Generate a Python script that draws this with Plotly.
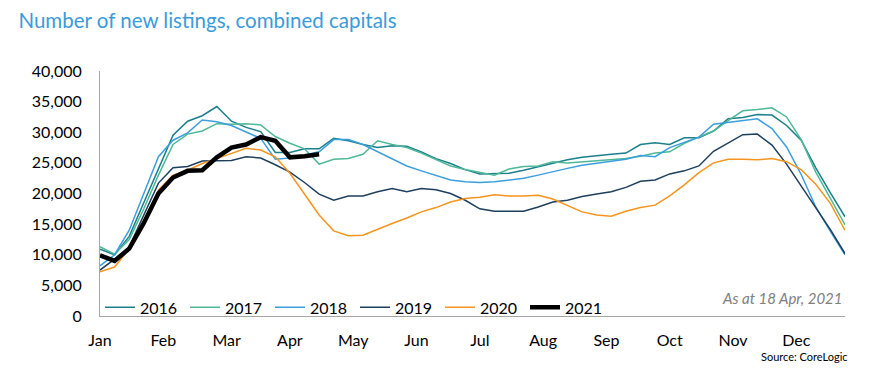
import plotly.graph_objects as go

weeks = list(range(52))
months = ["Jan", "Feb", "Mar", "Apr", "May", "Jun", "Jul", "Aug", "Sep", "Oct", "Nov", "Dec"]

y2016 = [10.9, 10.0, 13.0, 18.5, 24.0, 29.5, 31.8, 32.7, 34.2, 31.8, 30.8, 30.1, 26.7, 26.7, 27.3, 27.3,
         29.0, 28.6, 28.0, 27.5, 27.8, 27.7, 26.8, 25.7, 24.9, 23.9, 23.2, 23.2, 23.3, 23.8, 24.4, 24.9,
         25.5, 25.9, 26.2, 26.4, 26.6, 28.0, 28.3, 28.0, 29.1, 29.1, 30.2, 32.2, 32.4, 32.9, 32.8, 31.1,
         28.7, 24.2, 20.1, 16.2]
y2017 = [11.3, 10.1, 12.5, 17.5, 23.0, 28.0, 29.7, 30.2, 31.4, 31.3, 31.4, 31.2, 29.3, 28.2, 27.3, 24.8,
         25.6, 25.7, 26.4, 28.6, 28.0, 27.5, 26.6, 25.5, 24.5, 23.9, 23.4, 23.0, 24.0, 24.4, 24.5, 25.2,
         25.0, 25.2, 25.4, 25.5, 25.7, 26.1, 26.6, 26.8, 28.2, 29.2, 30.2, 31.9, 33.5, 33.7, 34.0, 32.5,
         28.8, 23.5, 19.2, 14.9]
y2018 = [8.2, 10.0, 14.0, 20.0, 26.0, 28.7, 29.9, 32.0, 31.7, 31.1, 30.0, 29.0, 25.6, 25.8, 26.3, 26.8,
         28.8, 28.8, 28.0, 26.8, 25.6, 24.5, 23.7, 22.9, 22.2, 21.9, 21.8, 21.9, 22.2, 22.5, 23.0, 23.6,
         24.1, 24.6, 24.9, 25.2, 25.6, 26.2, 26.0, 27.5, 28.4, 29.2, 31.3, 31.6, 31.9, 32.2, 30.6, 27.6,
         23.1, 17.8, 13.8, 10.0]
y2019 = [7.5, 9.3, 11.3, 16.5, 21.7, 24.2, 24.4, 25.3, 25.4, 25.4, 26.0, 25.8, 24.7, 23.5, 21.8, 19.9,
         18.9, 19.6, 19.6, 20.3, 20.8, 20.3, 20.8, 20.6, 20.0, 18.9, 17.5, 17.1, 17.1, 17.1, 17.8, 18.6,
         18.9, 19.5, 19.9, 20.3, 21.0, 22.0, 22.2, 23.2, 23.7, 24.5, 26.9, 28.3, 29.6, 29.7, 27.9, 24.8,
         21.2, 17.5, 14.1, 10.2]
y2020 = [7.2, 8.0, 11.0, 15.5, 20.6, 23.0, 23.8, 24.9, 25.7, 26.6, 27.4, 27.1, 26.0, 23.3, 20.0, 16.5,
         13.9, 13.1, 13.2, 14.2, 15.1, 16.0, 17.0, 17.7, 18.6, 19.2, 19.4, 19.8, 19.6, 19.6, 19.7, 19.1,
         18.0, 17.0, 16.5, 16.3, 17.1, 17.7, 18.1, 19.6, 21.4, 23.4, 25.0, 25.6, 25.6, 25.5, 25.7, 25.2,
         23.9, 21.5, 18.4, 14.0]
y2021 = [9.9, 9.0, 11.0, 15.2, 20.0, 22.6, 23.7, 23.8, 25.9, 27.5, 28.0, 29.2, 28.6, 25.9, 26.1, 26.4]

series = [
    ("2016", y2016, "#1B7F8C", 1.5),
    ("2017", y2017, "#4DB996", 1.5),
    ("2018", y2018, "#3B9FDD", 1.5),
    ("2019", y2019, "#1E3F5E", 1.5),
    ("2020", y2020, "#F7941D", 1.5),
    ("2021", y2021, "#000000", 4.5),
]

FONT = "Lato"
fig = go.Figure()
for name, vals, color, w in series:
    fig.add_trace(go.Scatter(
        x=weeks[:len(vals)], y=[v * 1000 for v in vals], name=name, mode="lines",
        line=dict(color=color, width=w),
    ))

fig.update_layout(
    width=871, height=389,
    margin=dict(l=92, r=34, t=63, b=81, autoexpand=False),
    paper_bgcolor="white", plot_bgcolor="white",
    font=dict(family=FONT, size=16, color="#000000"),
    title=dict(text="Number of new listings, combined capitals", x=0.012, xanchor="left",
               y=0.966, yanchor="middle", font=dict(family=FONT, size=20.5, color="#3A9BDC")),
    showlegend=True,
    legend=dict(orientation="h", x=0.0, xanchor="left", y=0.035, yanchor="middle",
                bgcolor="rgba(0,0,0,0)", font=dict(family=FONT, size=16, color="#000000"),
                entrywidth=40, entrywidthmode="pixels", traceorder="normal"),
)
fig.update_xaxes(
    range=[0, 51], tickmode="array", automargin=False,
    tickvals=[i * 52 / 12 for i in range(12)], ticktext=months,
    showgrid=False, zeroline=False, showline=True, linecolor="#A6A6A6", linewidth=1,
    ticks="outside", ticklen=10, tickcolor="rgba(0,0,0,0)",
    tickfont=dict(family=FONT, size=16),
)
fig.update_yaxes(
    range=[0, 40000], tickmode="array", automargin=False,
    tickvals=[0, 5000, 10000, 15000, 20000, 25000, 30000, 35000, 40000],
    tickformat=",d",
    showgrid=False, zeroline=False, showline=True, linecolor="#A6A6A6", linewidth=1,
    ticks="outside", ticklen=14, tickcolor="rgba(0,0,0,0)",
    tickfont=dict(family=FONT, size=16),
)
fig.add_annotation(text="<i>As at 18 Apr, 2021</i>", xref="paper", yref="paper",
                   x=1.0, y=(316 - 298) / 245, showarrow=False, xanchor="right", yanchor="middle",
                   font=dict(family=FONT, size=15, color="#808080"))
fig.add_annotation(text="Source: CoreLogic", xref="paper", yref="paper",
                   x=(850 - 100) / 745, y=-(356 - 316) / 245, showarrow=False,
                   xanchor="right", yanchor="middle",
                   font=dict(family=FONT, size=11, color="#000000"))

fig.write_html("out.html")
